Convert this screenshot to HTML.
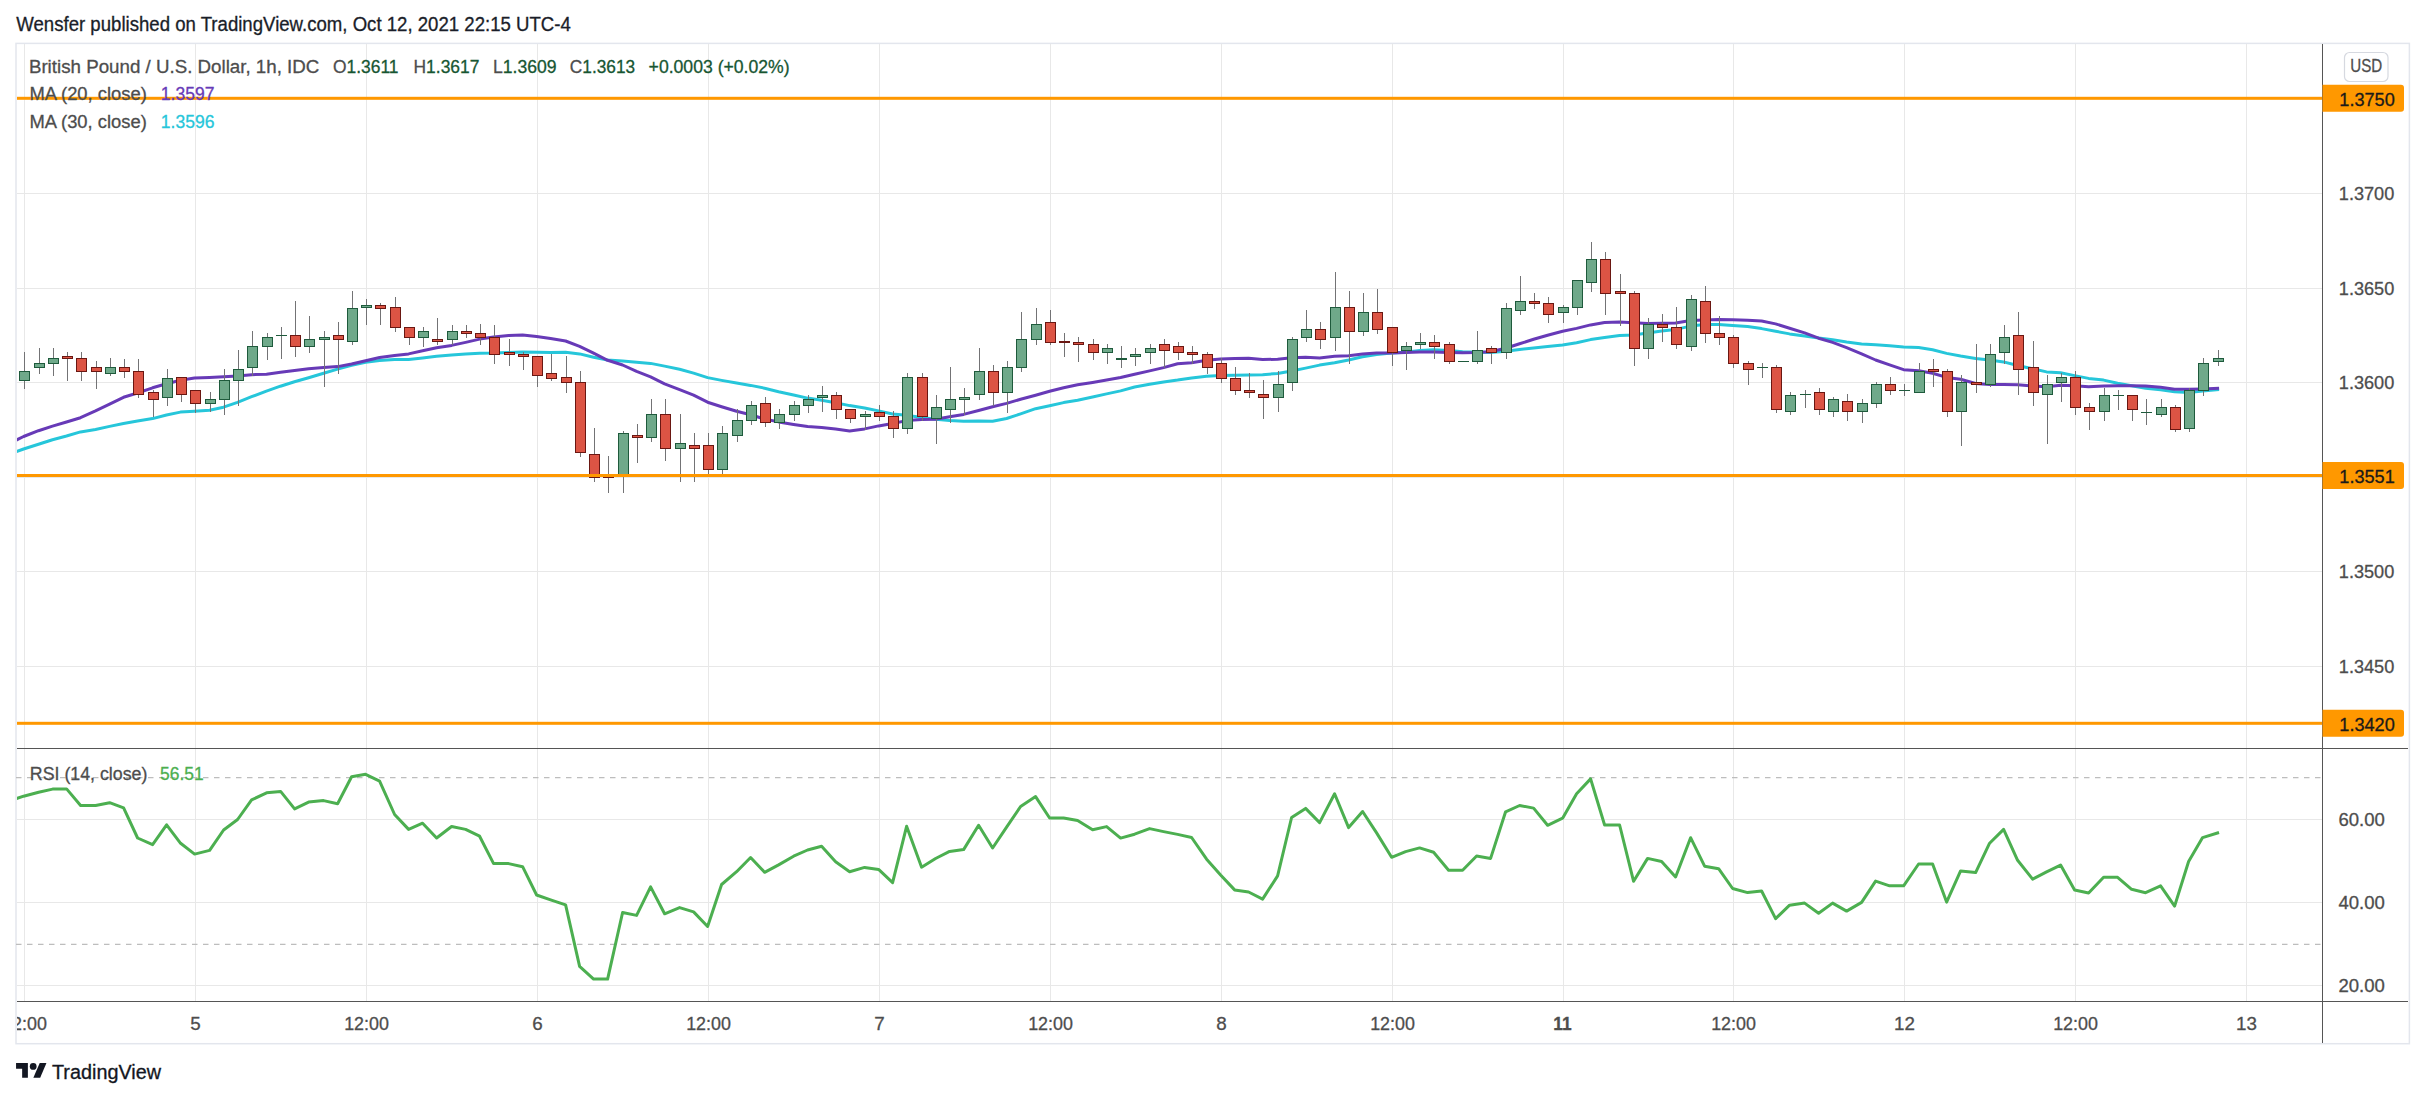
<!DOCTYPE html>
<html><head><meta charset="utf-8"><title>GBPUSD chart</title>
<style>html,body{margin:0;padding:0;background:#fff}body{width:2425px;height:1099px;position:relative;overflow:hidden}</style>
</head><body>
<svg width="2425" height="1099" viewBox="0 0 2425 1099" style="position:absolute;left:0;top:0;font-family:'Liberation Sans', sans-serif">
<rect width="2425" height="1099" fill="#fff"/>
<defs><clipPath id="cp"><rect x="17" y="44" width="2305" height="704"/></clipPath><clipPath id="cr"><rect x="17" y="749" width="2305" height="252"/></clipPath></defs>
<rect x="16.0" y="43.4" width="2393.4" height="1000.3" fill="none" stroke="#e3e6ed" stroke-width="1.5"/>
<g stroke="#e8e8e8" stroke-width="1" shape-rendering="crispEdges">
<line x1="24.5" y1="44" x2="24.5" y2="1001"/>
<line x1="195.5" y1="44" x2="195.5" y2="1001"/>
<line x1="366.5" y1="44" x2="366.5" y2="1001"/>
<line x1="537.5" y1="44" x2="537.5" y2="1001"/>
<line x1="708.5" y1="44" x2="708.5" y2="1001"/>
<line x1="879.5" y1="44" x2="879.5" y2="1001"/>
<line x1="1050.5" y1="44" x2="1050.5" y2="1001"/>
<line x1="1221.5" y1="44" x2="1221.5" y2="1001"/>
<line x1="1392.5" y1="44" x2="1392.5" y2="1001"/>
<line x1="1563.5" y1="44" x2="1563.5" y2="1001"/>
<line x1="1733.5" y1="44" x2="1733.5" y2="1001"/>
<line x1="1904.5" y1="44" x2="1904.5" y2="1001"/>
<line x1="2075.5" y1="44" x2="2075.5" y2="1001"/>
<line x1="2246.5" y1="44" x2="2246.5" y2="1001"/>
<line x1="17" y1="193.5" x2="2322" y2="193.5"/>
<line x1="17" y1="288.5" x2="2322" y2="288.5"/>
<line x1="17" y1="382.5" x2="2322" y2="382.5"/>
<line x1="17" y1="477.5" x2="2322" y2="477.5"/>
<line x1="17" y1="571.5" x2="2322" y2="571.5"/>
<line x1="17" y1="666.5" x2="2322" y2="666.5"/>
<line x1="17" y1="819.5" x2="2322" y2="819.5"/>
<line x1="17" y1="902.5" x2="2322" y2="902.5"/>
<line x1="17" y1="985.5" x2="2322" y2="985.5"/>
</g>
<g stroke="#bdbdbd" stroke-width="1.2" stroke-dasharray="5.5 5.5" fill="none">
<line x1="16" y1="777.7" x2="2322" y2="777.7"/><line x1="16" y1="944.3" x2="2322" y2="944.3"/></g>
<g clip-path="url(#cp)">
<polyline points="15.3,452.1 23.6,449.0 38.5,444.3 52.5,439.7 66.5,436.0 80.5,431.9 95.5,429.5 109.6,426.4 123.5,423.5 137.5,421.1 152.6,418.6 166.5,415.0 180.4,412.1 194.4,411.2 209.5,410.3 223.5,407.2 237.5,402.3 251.6,396.7 266.4,391.1 280.4,386.2 294.5,381.8 308.6,377.8 323.6,373.2 337.6,369.1 351.6,365.4 365.6,362.3 379.5,360.5 394.5,359.6 408.6,359.5 422.6,358.0 436.6,356.2 451.6,354.9 465.6,353.9 479.6,353.2 493.6,353.1 508.6,352.5 522.6,352.0 536.6,352.3 550.6,352.6 565.6,352.2 579.6,353.9 593.6,357.3 607.6,360.0 622.6,361.0 636.6,362.3 650.6,363.4 664.6,366.1 679.6,369.3 693.6,373.1 707.6,377.6 721.6,380.4 736.6,383.1 750.6,385.4 764.6,388.2 778.6,391.7 793.6,395.0 807.6,398.1 821.6,400.3 835.6,402.7 849.6,405.6 864.6,408.0 878.6,410.9 892.6,414.0 906.6,415.3 921.6,417.4 935.6,419.2 949.6,420.6 963.6,421.3 978.6,421.0 992.6,421.3 1006.6,418.5 1020.6,413.9 1035.6,408.7 1049.6,405.7 1063.6,402.6 1077.6,400.2 1092.6,397.0 1106.6,393.9 1120.6,390.9 1134.6,387.0 1149.6,384.2 1163.6,381.9 1177.6,380.1 1191.6,377.9 1206.6,376.3 1220.6,375.4 1234.6,375.2 1248.6,375.1 1262.6,374.7 1277.6,373.5 1291.6,371.0 1305.6,368.1 1319.6,365.1 1334.6,362.8 1348.6,360.0 1362.6,356.8 1376.6,354.5 1391.6,353.0 1405.6,352.2 1419.6,350.5 1433.6,349.8 1448.6,350.6 1462.6,351.8 1476.6,352.1 1490.6,352.4 1505.6,351.2 1519.6,349.4 1533.6,347.9 1547.6,346.5 1562.6,344.9 1576.6,342.7 1590.6,339.6 1604.6,337.6 1619.6,335.6 1633.6,335.0 1647.6,333.1 1661.6,331.0 1675.6,329.4 1690.6,326.1 1704.6,324.5 1718.6,324.4 1732.6,325.6 1747.6,326.6 1761.6,328.6 1775.6,331.2 1789.6,333.9 1804.6,336.1 1818.6,338.0 1832.6,339.7 1846.6,342.1 1861.6,343.9 1875.6,344.7 1889.6,345.7 1903.6,347.0 1918.6,347.6 1932.6,349.7 1946.6,353.4 1960.6,356.0 1975.6,358.4 1989.6,360.0 2003.6,361.9 2017.6,365.5 2032.6,368.8 2046.6,371.9 2060.6,372.8 2074.6,375.6 2088.6,378.4 2103.6,380.1 2117.6,383.3 2131.6,385.8 2145.6,388.3 2160.6,389.7 2174.6,391.7 2188.6,392.5 2202.6,390.9 2217.6,389.7" fill="none" stroke="#26c6da" stroke-width="3" stroke-linejoin="round" stroke-linecap="square"/>
<polyline points="15.3,440.6 23.6,436.5 38.5,430.7 52.5,426.1 66.5,422.0 80.5,417.7 95.5,410.9 109.6,404.1 123.5,397.3 137.5,393.0 152.6,387.8 166.5,383.7 180.5,380.3 194.5,378.1 209.6,377.4 223.6,376.8 237.6,375.9 251.7,374.7 266.5,374.2 280.5,372.2 294.6,370.4 308.6,368.8 323.6,367.5 337.6,366.6 351.6,364.0 365.6,360.7 379.6,357.5 394.6,355.6 408.6,353.9 422.6,350.7 436.6,347.8 451.6,345.4 465.6,342.4 479.6,339.1 493.6,336.9 508.6,335.6 522.6,335.0 536.6,336.5 550.6,338.6 565.6,341.0 579.6,346.3 593.6,353.2 607.6,360.3 622.6,365.0 636.6,371.4 650.6,376.9 664.6,383.9 679.6,389.7 693.6,395.2 707.6,402.2 721.6,406.7 736.6,411.2 750.6,414.7 764.6,419.0 778.6,421.9 793.6,424.4 807.6,426.6 821.6,427.5 835.6,429.1 849.6,430.9 864.6,428.9 878.6,425.9 892.6,423.4 906.6,420.6 921.6,419.5 935.6,419.2 949.6,416.7 963.6,414.4 978.6,410.5 992.6,406.7 1006.6,403.4 1020.6,399.3 1035.6,395.3 1049.6,391.3 1063.6,387.7 1077.6,384.7 1092.6,382.4 1106.6,380.1 1120.6,377.5 1134.6,374.2 1149.6,370.9 1163.6,367.6 1177.6,363.8 1191.6,362.7 1206.6,360.3 1220.6,358.9 1234.6,358.5 1248.6,358.2 1262.6,359.6 1277.6,359.2 1291.6,357.8 1305.6,357.3 1319.6,358.0 1334.6,356.3 1348.6,355.7 1362.6,354.1 1376.6,352.9 1391.6,353.1 1405.6,352.5 1419.6,351.9 1433.6,351.9 1448.6,352.4 1462.6,352.8 1476.6,352.6 1490.6,351.8 1505.6,348.3 1519.6,343.8 1533.6,339.3 1547.6,335.2 1562.6,331.3 1576.6,328.4 1590.6,324.9 1604.6,322.6 1619.6,321.9 1633.6,322.8 1647.6,323.4 1661.6,323.3 1675.6,322.9 1690.6,320.5 1704.6,320.1 1718.6,319.6 1732.6,319.7 1747.6,320.2 1761.6,321.0 1775.6,323.9 1789.6,328.2 1804.6,332.9 1818.6,338.2 1832.6,342.4 1846.6,347.6 1861.6,353.8 1875.6,360.0 1889.6,364.9 1903.6,369.7 1918.6,370.8 1932.6,373.2 1946.6,377.4 1960.6,379.3 1975.6,383.5 1989.6,384.6 2003.6,384.5 2017.6,384.8 2032.6,386.0 2046.6,386.8 2060.6,385.2 2074.6,385.8 2088.6,386.8 2103.6,386.0 2117.6,385.8 2131.6,385.7 2145.6,386.1 2160.6,387.3 2174.6,389.2 2188.6,389.3 2202.6,388.9 2217.6,388.2" fill="none" stroke="#673ab7" stroke-width="3" stroke-linejoin="round" stroke-linecap="square"/>
<g fill="#737375" shape-rendering="crispEdges"><rect x="24.0" y="352" width="1" height="37"/><rect x="39.0" y="348" width="1" height="26"/><rect x="53.0" y="348" width="1" height="28"/><rect x="67.0" y="352" width="1" height="29"/><rect x="81.0" y="352" width="1" height="29"/><rect x="96.0" y="361" width="1" height="28"/><rect x="110.0" y="358" width="1" height="18"/><rect x="124.0" y="359" width="1" height="19"/><rect x="138.0" y="359" width="1" height="39"/><rect x="153.0" y="390" width="1" height="27"/><rect x="167.0" y="369" width="1" height="37"/><rect x="181.0" y="377" width="1" height="25"/><rect x="195.0" y="390" width="1" height="23"/><rect x="210.0" y="392" width="1" height="20"/><rect x="224.0" y="369" width="1" height="46"/><rect x="238.0" y="350" width="1" height="56"/><rect x="252.0" y="331" width="1" height="45"/><rect x="267.0" y="333" width="1" height="27"/><rect x="281.0" y="327" width="1" height="32"/><rect x="295.0" y="301" width="1" height="56"/><rect x="309.0" y="316" width="1" height="37"/><rect x="324.0" y="331" width="1" height="56"/><rect x="338.0" y="322" width="1" height="52"/><rect x="352.0" y="291" width="1" height="54"/><rect x="366.0" y="299" width="1" height="26"/><rect x="380.0" y="303" width="1" height="22"/><rect x="395.0" y="297" width="1" height="35"/><rect x="409.0" y="327" width="1" height="18"/><rect x="423.0" y="327" width="1" height="20"/><rect x="437.0" y="318" width="1" height="27"/><rect x="452.0" y="325" width="1" height="20"/><rect x="466.0" y="325" width="1" height="13"/><rect x="480.0" y="324" width="1" height="21"/><rect x="494.0" y="325" width="1" height="39"/><rect x="509.0" y="339" width="1" height="27"/><rect x="523.0" y="352" width="1" height="18"/><rect x="537.0" y="356" width="1" height="31"/><rect x="551.0" y="354" width="1" height="27"/><rect x="566.0" y="356" width="1" height="37"/><rect x="580.0" y="371" width="1" height="86"/><rect x="594.0" y="428" width="1" height="54"/><rect x="608.0" y="456" width="1" height="37"/><rect x="623.0" y="431" width="1" height="62"/><rect x="637.0" y="424" width="1" height="39"/><rect x="651.0" y="399" width="1" height="43"/><rect x="665.0" y="399" width="1" height="62"/><rect x="680.0" y="414" width="1" height="68"/><rect x="694.0" y="433" width="1" height="49"/><rect x="708.0" y="433" width="1" height="43"/><rect x="722.0" y="426" width="1" height="50"/><rect x="737.0" y="409" width="1" height="33"/><rect x="751.0" y="401" width="1" height="24"/><rect x="765.0" y="397" width="1" height="30"/><rect x="779.0" y="409" width="1" height="20"/><rect x="794.0" y="401" width="1" height="20"/><rect x="808.0" y="395" width="1" height="18"/><rect x="822.0" y="386" width="1" height="26"/><rect x="836.0" y="392" width="1" height="27"/><rect x="850.0" y="409" width="1" height="14"/><rect x="865.0" y="411" width="1" height="19"/><rect x="879.0" y="405" width="1" height="16"/><rect x="893.0" y="411" width="1" height="27"/><rect x="907.0" y="373" width="1" height="61"/><rect x="922.0" y="373" width="1" height="48"/><rect x="936.0" y="395" width="1" height="49"/><rect x="950.0" y="367" width="1" height="56"/><rect x="964.0" y="388" width="1" height="27"/><rect x="979.0" y="348" width="1" height="52"/><rect x="993.0" y="365" width="1" height="41"/><rect x="1007.0" y="361" width="1" height="52"/><rect x="1021.0" y="312" width="1" height="60"/><rect x="1036.0" y="308" width="1" height="37"/><rect x="1050.0" y="310" width="1" height="35"/><rect x="1064.0" y="333" width="1" height="24"/><rect x="1078.0" y="337" width="1" height="25"/><rect x="1093.0" y="339" width="1" height="21"/><rect x="1107.0" y="344" width="1" height="20"/><rect x="1121.0" y="346" width="1" height="22"/><rect x="1135.0" y="348" width="1" height="18"/><rect x="1150.0" y="344" width="1" height="20"/><rect x="1164.0" y="339" width="1" height="29"/><rect x="1178.0" y="342" width="1" height="18"/><rect x="1192.0" y="346" width="1" height="18"/><rect x="1207.0" y="352" width="1" height="22"/><rect x="1221.0" y="358" width="1" height="25"/><rect x="1235.0" y="367" width="1" height="28"/><rect x="1249.0" y="373" width="1" height="25"/><rect x="1263.0" y="380" width="1" height="39"/><rect x="1278.0" y="371" width="1" height="41"/><rect x="1292.0" y="337" width="1" height="54"/><rect x="1306.0" y="310" width="1" height="32"/><rect x="1320.0" y="322" width="1" height="27"/><rect x="1335.0" y="272" width="1" height="79"/><rect x="1349.0" y="291" width="1" height="73"/><rect x="1363.0" y="293" width="1" height="43"/><rect x="1377.0" y="289" width="1" height="45"/><rect x="1392.0" y="327" width="1" height="39"/><rect x="1406.0" y="342" width="1" height="28"/><rect x="1420.0" y="333" width="1" height="16"/><rect x="1434.0" y="335" width="1" height="24"/><rect x="1449.0" y="342" width="1" height="22"/><rect x="1463.0" y="361" width="1" height="1"/><rect x="1477.0" y="331" width="1" height="33"/><rect x="1491.0" y="346" width="1" height="18"/><rect x="1506.0" y="303" width="1" height="56"/><rect x="1520.0" y="276" width="1" height="39"/><rect x="1534.0" y="293" width="1" height="16"/><rect x="1548.0" y="297" width="1" height="26"/><rect x="1563.0" y="305" width="1" height="18"/><rect x="1577.0" y="280" width="1" height="35"/><rect x="1591.0" y="242" width="1" height="50"/><rect x="1605.0" y="252" width="1" height="63"/><rect x="1620.0" y="274" width="1" height="52"/><rect x="1634.0" y="291" width="1" height="75"/><rect x="1648.0" y="318" width="1" height="41"/><rect x="1662.0" y="314" width="1" height="28"/><rect x="1676.0" y="307" width="1" height="42"/><rect x="1691.0" y="295" width="1" height="56"/><rect x="1705.0" y="286" width="1" height="57"/><rect x="1719.0" y="316" width="1" height="29"/><rect x="1733.0" y="335" width="1" height="33"/><rect x="1748.0" y="361" width="1" height="24"/><rect x="1762.0" y="363" width="1" height="15"/><rect x="1776.0" y="365" width="1" height="48"/><rect x="1790.0" y="392" width="1" height="23"/><rect x="1805.0" y="390" width="1" height="18"/><rect x="1819.0" y="388" width="1" height="27"/><rect x="1833.0" y="397" width="1" height="20"/><rect x="1847.0" y="394" width="1" height="27"/><rect x="1862.0" y="399" width="1" height="24"/><rect x="1876.0" y="382" width="1" height="26"/><rect x="1890.0" y="377" width="1" height="18"/><rect x="1904.0" y="384" width="1" height="12"/><rect x="1919.0" y="363" width="1" height="30"/><rect x="1933.0" y="359" width="1" height="28"/><rect x="1947.0" y="369" width="1" height="48"/><rect x="1961.0" y="375" width="1" height="71"/><rect x="1976.0" y="344" width="1" height="49"/><rect x="1990.0" y="344" width="1" height="43"/><rect x="2004.0" y="325" width="1" height="39"/><rect x="2018.0" y="312" width="1" height="83"/><rect x="2033.0" y="341" width="1" height="65"/><rect x="2047.0" y="375" width="1" height="69"/><rect x="2061.0" y="373" width="1" height="29"/><rect x="2075.0" y="371" width="1" height="44"/><rect x="2089.0" y="403" width="1" height="27"/><rect x="2104.0" y="388" width="1" height="33"/><rect x="2118.0" y="390" width="1" height="20"/><rect x="2132.0" y="395" width="1" height="26"/><rect x="2146.0" y="399" width="1" height="26"/><rect x="2161.0" y="399" width="1" height="18"/><rect x="2175.0" y="405" width="1" height="27"/><rect x="2189.0" y="388" width="1" height="44"/><rect x="2203.0" y="358" width="1" height="38"/><rect x="2218.0" y="350" width="1" height="16"/></g>
<g fill="#6fa98a" stroke="#1e5a3c" stroke-width="1"><rect x="19.5" y="371.5" width="10" height="9"/><rect x="34.5" y="363.5" width="10" height="4"/><rect x="48.5" y="358.5" width="10" height="5"/><rect x="105.5" y="367.5" width="10" height="6"/><rect x="162.5" y="378.5" width="10" height="19"/><rect x="205.5" y="399.5" width="10" height="4"/><rect x="219.5" y="380.5" width="10" height="19"/><rect x="233.5" y="369.5" width="10" height="11"/><rect x="247.5" y="346.5" width="10" height="21"/><rect x="262.5" y="337.5" width="10" height="9"/><rect x="276.0" y="335" width="11" height="1" fill="#1e5a3c" stroke="none"/><rect x="304.5" y="339.5" width="10" height="7"/><rect x="319.5" y="337.5" width="10" height="2"/><rect x="347.5" y="308.5" width="10" height="33"/><rect x="361.5" y="305.5" width="10" height="2"/><rect x="418.5" y="331.5" width="10" height="6"/><rect x="447.5" y="331.5" width="10" height="8"/><rect x="618.5" y="433.5" width="10" height="43"/><rect x="646.5" y="414.5" width="10" height="23"/><rect x="675.5" y="443.5" width="10" height="5"/><rect x="717.5" y="433.5" width="10" height="36"/><rect x="732.5" y="420.5" width="10" height="15"/><rect x="746.5" y="405.5" width="10" height="15"/><rect x="774.5" y="414.5" width="10" height="8"/><rect x="789.5" y="405.5" width="10" height="9"/><rect x="803.5" y="399.5" width="10" height="6"/><rect x="817.5" y="395.5" width="10" height="2"/><rect x="860.5" y="414.5" width="10" height="2"/><rect x="902.5" y="377.5" width="10" height="51"/><rect x="931.5" y="407.5" width="10" height="11"/><rect x="945.5" y="399.5" width="10" height="10"/><rect x="959.5" y="397.5" width="10" height="2"/><rect x="974.5" y="371.5" width="10" height="23"/><rect x="1002.5" y="367.5" width="10" height="25"/><rect x="1016.5" y="339.5" width="10" height="28"/><rect x="1031.5" y="324.5" width="10" height="15"/><rect x="1102.5" y="348.5" width="10" height="4"/><rect x="1116.0" y="358" width="11" height="2" fill="#1e5a3c" stroke="none"/><rect x="1130.5" y="354.5" width="10" height="2"/><rect x="1145.5" y="348.5" width="10" height="4"/><rect x="1273.5" y="384.5" width="10" height="13"/><rect x="1287.5" y="339.5" width="10" height="43"/><rect x="1301.5" y="329.5" width="10" height="8"/><rect x="1330.5" y="307.5" width="10" height="30"/><rect x="1358.5" y="312.5" width="10" height="19"/><rect x="1401.5" y="346.5" width="10" height="4"/><rect x="1415.5" y="342.5" width="10" height="2"/><rect x="1458.0" y="361" width="11" height="1" fill="#1e5a3c" stroke="none"/><rect x="1472.5" y="350.5" width="10" height="11"/><rect x="1501.5" y="308.5" width="10" height="44"/><rect x="1515.5" y="301.5" width="10" height="9"/><rect x="1558.5" y="307.5" width="10" height="5"/><rect x="1572.5" y="280.5" width="10" height="27"/><rect x="1586.5" y="259.5" width="10" height="23"/><rect x="1643.5" y="324.5" width="10" height="24"/><rect x="1686.5" y="299.5" width="10" height="47"/><rect x="1757.0" y="367" width="11" height="1" fill="#1e5a3c" stroke="none"/><rect x="1785.5" y="395.5" width="10" height="16"/><rect x="1800.0" y="394" width="11" height="1" fill="#1e5a3c" stroke="none"/><rect x="1828.5" y="399.5" width="10" height="12"/><rect x="1857.5" y="403.5" width="10" height="8"/><rect x="1871.5" y="384.5" width="10" height="19"/><rect x="1899.0" y="390" width="11" height="1" fill="#1e5a3c" stroke="none"/><rect x="1914.5" y="371.5" width="10" height="21"/><rect x="1956.5" y="382.5" width="10" height="29"/><rect x="1985.5" y="354.5" width="10" height="30"/><rect x="1999.5" y="337.5" width="10" height="15"/><rect x="2042.5" y="384.5" width="10" height="10"/><rect x="2056.5" y="377.5" width="10" height="5"/><rect x="2099.5" y="395.5" width="10" height="16"/><rect x="2113.0" y="395" width="11" height="1" fill="#1e5a3c" stroke="none"/><rect x="2141.0" y="412" width="11" height="1" fill="#1e5a3c" stroke="none"/><rect x="2156.5" y="407.5" width="10" height="7"/><rect x="2184.5" y="390.5" width="10" height="38"/><rect x="2198.5" y="363.5" width="10" height="27"/><rect x="2213.5" y="358.5" width="10" height="3"/></g>
<g fill="#dc5444" stroke="#6a1712" stroke-width="1"><rect x="62.5" y="356.5" width="10" height="2"/><rect x="76.5" y="358.5" width="10" height="13"/><rect x="91.5" y="367.5" width="10" height="4"/><rect x="119.5" y="367.5" width="10" height="4"/><rect x="133.5" y="371.5" width="10" height="23"/><rect x="148.5" y="392.5" width="10" height="7"/><rect x="176.5" y="377.5" width="10" height="17"/><rect x="190.5" y="390.5" width="10" height="13"/><rect x="290.5" y="335.5" width="10" height="11"/><rect x="333.5" y="335.5" width="10" height="4"/><rect x="375.5" y="305.5" width="10" height="3"/><rect x="390.5" y="307.5" width="10" height="20"/><rect x="404.5" y="327.5" width="10" height="10"/><rect x="432.5" y="339.5" width="10" height="2"/><rect x="461.5" y="331.5" width="10" height="2"/><rect x="475.5" y="333.5" width="10" height="4"/><rect x="489.5" y="337.5" width="10" height="17"/><rect x="504.5" y="352.5" width="10" height="2"/><rect x="518.5" y="354.5" width="10" height="2"/><rect x="532.5" y="356.5" width="10" height="19"/><rect x="546.5" y="373.5" width="10" height="5"/><rect x="561.5" y="377.5" width="10" height="5"/><rect x="575.5" y="382.5" width="10" height="70"/><rect x="589.5" y="454.5" width="10" height="23"/><rect x="603.0" y="476" width="11" height="2" fill="#6a1712" stroke="none"/><rect x="632.5" y="435.5" width="10" height="2"/><rect x="660.5" y="414.5" width="10" height="34"/><rect x="689.5" y="445.5" width="10" height="3"/><rect x="703.5" y="445.5" width="10" height="24"/><rect x="760.5" y="403.5" width="10" height="19"/><rect x="831.5" y="395.5" width="10" height="14"/><rect x="845.5" y="409.5" width="10" height="9"/><rect x="874.5" y="412.5" width="10" height="4"/><rect x="888.5" y="416.5" width="10" height="12"/><rect x="917.5" y="377.5" width="10" height="39"/><rect x="988.5" y="371.5" width="10" height="21"/><rect x="1045.5" y="322.5" width="10" height="20"/><rect x="1059.0" y="341" width="11" height="2" fill="#6a1712" stroke="none"/><rect x="1073.5" y="342.5" width="10" height="2"/><rect x="1088.5" y="344.5" width="10" height="8"/><rect x="1159.5" y="344.5" width="10" height="6"/><rect x="1173.5" y="346.5" width="10" height="6"/><rect x="1187.5" y="352.5" width="10" height="2"/><rect x="1202.5" y="354.5" width="10" height="13"/><rect x="1216.5" y="363.5" width="10" height="15"/><rect x="1230.5" y="378.5" width="10" height="12"/><rect x="1244.5" y="390.5" width="10" height="2"/><rect x="1258.5" y="394.5" width="10" height="3"/><rect x="1315.5" y="329.5" width="10" height="10"/><rect x="1344.5" y="307.5" width="10" height="24"/><rect x="1372.5" y="312.5" width="10" height="17"/><rect x="1387.5" y="327.5" width="10" height="25"/><rect x="1429.5" y="342.5" width="10" height="4"/><rect x="1444.5" y="344.5" width="10" height="17"/><rect x="1486.5" y="348.5" width="10" height="4"/><rect x="1529.5" y="301.5" width="10" height="2"/><rect x="1543.5" y="303.5" width="10" height="11"/><rect x="1600.5" y="259.5" width="10" height="34"/><rect x="1615.5" y="291.5" width="10" height="2"/><rect x="1629.5" y="293.5" width="10" height="55"/><rect x="1657.5" y="324.5" width="10" height="3"/><rect x="1671.5" y="327.5" width="10" height="17"/><rect x="1700.5" y="301.5" width="10" height="32"/><rect x="1714.5" y="333.5" width="10" height="4"/><rect x="1728.5" y="337.5" width="10" height="26"/><rect x="1743.5" y="363.5" width="10" height="6"/><rect x="1771.5" y="367.5" width="10" height="42"/><rect x="1814.5" y="392.5" width="10" height="17"/><rect x="1842.5" y="401.5" width="10" height="10"/><rect x="1885.5" y="384.5" width="10" height="6"/><rect x="1928.5" y="369.5" width="10" height="2"/><rect x="1942.5" y="371.5" width="10" height="40"/><rect x="1971.5" y="382.5" width="10" height="2"/><rect x="2013.5" y="335.5" width="10" height="34"/><rect x="2028.5" y="367.5" width="10" height="25"/><rect x="2070.5" y="377.5" width="10" height="30"/><rect x="2084.5" y="407.5" width="10" height="4"/><rect x="2127.5" y="395.5" width="10" height="14"/><rect x="2170.5" y="407.5" width="10" height="22"/></g>
<rect x="17" y="96.8" width="2305" height="3" fill="#ff9800"/>
<rect x="17" y="474.0" width="2305" height="3" fill="#ff9800"/>
<rect x="17" y="721.8" width="2305" height="3" fill="#ff9800"/>
</g>
<g clip-path="url(#cr)"><polyline points="15.3,799.0 23.6,796.2 38.6,792.2 52.6,789.1 66.6,788.9 80.6,805.5 95.6,805.5 109.6,802.7 123.6,807.9 137.6,838.0 152.6,844.6 166.6,824.8 180.6,843.3 194.6,854.1 209.6,850.4 223.6,830.0 237.6,819.5 251.6,799.9 266.6,792.8 280.6,791.4 294.6,808.9 308.6,802.1 323.6,800.6 337.6,803.7 351.6,776.8 365.6,774.3 379.6,781.1 394.6,814.5 408.6,829.4 422.6,823.2 436.6,838.0 451.6,826.5 465.6,829.4 479.6,836.2 493.6,863.6 508.6,863.6 522.6,866.7 536.6,895.0 550.6,899.9 565.6,904.9 579.6,966.4 593.6,979.1 607.6,979.1 622.6,912.5 636.6,915.4 650.6,886.9 664.6,913.8 679.6,907.6 693.6,911.9 707.6,926.5 721.6,884.5 736.6,871.7 750.6,857.5 764.6,872.3 778.6,864.9 793.6,856.2 807.6,850.0 821.6,846.3 835.6,861.8 849.6,871.7 864.6,867.4 878.6,869.4 892.6,882.6 906.6,826.3 921.6,867.2 935.6,858.5 949.6,851.4 963.6,849.6 978.6,825.3 992.6,848.0 1006.6,827.2 1020.6,806.5 1035.6,796.6 1049.6,818.0 1063.6,818.0 1077.6,820.5 1092.6,829.8 1106.6,826.6 1120.6,838.1 1134.6,834.2 1149.6,828.6 1163.6,831.6 1177.6,834.4 1191.6,837.5 1206.6,859.2 1220.6,875.0 1234.6,889.9 1248.6,892.0 1262.6,899.1 1277.6,875.9 1291.6,817.5 1305.6,808.4 1319.6,822.6 1334.6,793.8 1348.6,827.6 1362.6,811.5 1376.6,832.9 1391.6,857.3 1405.6,851.6 1419.6,847.9 1433.6,852.3 1448.6,870.2 1462.6,870.2 1476.6,856.0 1490.6,858.4 1505.6,811.8 1519.6,805.5 1533.6,808.1 1547.6,825.3 1562.6,818.2 1576.6,793.7 1590.6,778.9 1604.6,825.0 1619.6,825.0 1633.6,881.3 1647.6,858.4 1661.6,861.5 1675.6,877.0 1690.6,837.7 1704.6,866.2 1718.6,868.7 1732.6,888.5 1747.6,892.6 1761.6,891.0 1775.6,918.6 1789.6,905.2 1804.6,903.1 1818.6,913.2 1832.6,903.1 1846.6,911.1 1861.6,902.4 1875.6,881.1 1889.6,885.8 1903.6,885.8 1918.6,864.0 1932.6,864.0 1946.6,902.1 1960.6,870.9 1975.6,872.6 1989.6,843.2 2003.6,829.4 2017.6,860.3 2032.6,879.1 2046.6,871.9 2060.6,865.1 2074.6,890.0 2088.6,893.0 2103.6,877.3 2117.6,877.3 2131.6,889.3 2145.6,892.7 2160.6,885.9 2174.6,906.1 2188.6,861.5 2202.6,837.6 2217.6,832.9" fill="none" stroke="#4caf50" stroke-width="3" stroke-linejoin="round" stroke-linecap="square"/></g>
<g fill="#555555" shape-rendering="crispEdges">
<rect x="2322" y="44" width="1" height="999"/>
<rect x="17" y="748" width="2391" height="1"/>
<rect x="17" y="1001" width="2391" height="1"/>
</g>
<text x="2338.8" y="199.9" font-size="19" fill="#4d4d4d" text-anchor="start" font-weight="normal" textLength="55.5" lengthAdjust="spacingAndGlyphs" stroke="#4d4d4d" stroke-width="0.3">1.3700</text>
<text x="2338.8" y="294.9" font-size="19" fill="#4d4d4d" text-anchor="start" font-weight="normal" textLength="55.5" lengthAdjust="spacingAndGlyphs" stroke="#4d4d4d" stroke-width="0.3">1.3650</text>
<text x="2338.8" y="388.9" font-size="19" fill="#4d4d4d" text-anchor="start" font-weight="normal" textLength="55.5" lengthAdjust="spacingAndGlyphs" stroke="#4d4d4d" stroke-width="0.3">1.3600</text>
<text x="2338.8" y="577.9" font-size="19" fill="#4d4d4d" text-anchor="start" font-weight="normal" textLength="55.5" lengthAdjust="spacingAndGlyphs" stroke="#4d4d4d" stroke-width="0.3">1.3500</text>
<text x="2338.8" y="672.9" font-size="19" fill="#4d4d4d" text-anchor="start" font-weight="normal" textLength="55.5" lengthAdjust="spacingAndGlyphs" stroke="#4d4d4d" stroke-width="0.3">1.3450</text>
<text x="2338.4" y="826.0" font-size="19" fill="#4d4d4d" text-anchor="start" font-weight="normal" textLength="46.4" lengthAdjust="spacingAndGlyphs" stroke="#4d4d4d" stroke-width="0.3">60.00</text>
<text x="2338.4" y="909.0" font-size="19" fill="#4d4d4d" text-anchor="start" font-weight="normal" textLength="46.4" lengthAdjust="spacingAndGlyphs" stroke="#4d4d4d" stroke-width="0.3">40.00</text>
<text x="2338.4" y="992.0" font-size="19" fill="#4d4d4d" text-anchor="start" font-weight="normal" textLength="46.4" lengthAdjust="spacingAndGlyphs" stroke="#4d4d4d" stroke-width="0.3">20.00</text>
<path d="M2322.5 84.8H2401a3 3 0 0 1 3 3V108.8a3 3 0 0 1-3 3H2322.5Z" fill="#ff9800"/>
<text x="2339.3" y="105.6" font-size="19" fill="#1a1a1a" text-anchor="start" font-weight="normal" textLength="55.5" lengthAdjust="spacingAndGlyphs" stroke="#1a1a1a" stroke-width="0.3">1.3750</text>
<path d="M2322.5 462.0H2401a3 3 0 0 1 3 3V486.0a3 3 0 0 1-3 3H2322.5Z" fill="#ff9800"/>
<text x="2339.3" y="482.8" font-size="19" fill="#1a1a1a" text-anchor="start" font-weight="normal" textLength="55.5" lengthAdjust="spacingAndGlyphs" stroke="#1a1a1a" stroke-width="0.3">1.3551</text>
<path d="M2322.5 709.8H2401a3 3 0 0 1 3 3V733.8a3 3 0 0 1-3 3H2322.5Z" fill="#ff9800"/>
<text x="2339.3" y="730.5999999999999" font-size="19" fill="#1a1a1a" text-anchor="start" font-weight="normal" textLength="55.5" lengthAdjust="spacingAndGlyphs" stroke="#1a1a1a" stroke-width="0.3">1.3420</text>
<rect x="2344.5" y="52.5" width="43.5" height="29" rx="5" fill="#fff" stroke="#d6d9e0" stroke-width="1.2"/>
<text x="2350.2" y="72.4" font-size="18.8" fill="#4d4d4d" text-anchor="start" font-weight="normal" textLength="32" lengthAdjust="spacingAndGlyphs" stroke="#4d4d4d" stroke-width="0.3">USD</text>
<g clip-path="url(#ct)">
<text x="195.5" y="1029.8" font-size="18.8" fill="#4d4d4d" text-anchor="middle" font-weight="normal" stroke="#4d4d4d" stroke-width="0.3">5</text>
<text x="366.5" y="1029.8" font-size="18.8" fill="#4d4d4d" text-anchor="middle" font-weight="normal" textLength="44.7" lengthAdjust="spacingAndGlyphs" stroke="#4d4d4d" stroke-width="0.3">12:00</text>
<text x="537.5" y="1029.8" font-size="18.8" fill="#4d4d4d" text-anchor="middle" font-weight="normal" stroke="#4d4d4d" stroke-width="0.3">6</text>
<text x="708.5" y="1029.8" font-size="18.8" fill="#4d4d4d" text-anchor="middle" font-weight="normal" textLength="44.7" lengthAdjust="spacingAndGlyphs" stroke="#4d4d4d" stroke-width="0.3">12:00</text>
<text x="879.5" y="1029.8" font-size="18.8" fill="#4d4d4d" text-anchor="middle" font-weight="normal" stroke="#4d4d4d" stroke-width="0.3">7</text>
<text x="1050.5" y="1029.8" font-size="18.8" fill="#4d4d4d" text-anchor="middle" font-weight="normal" textLength="44.7" lengthAdjust="spacingAndGlyphs" stroke="#4d4d4d" stroke-width="0.3">12:00</text>
<text x="1221.5" y="1029.8" font-size="18.8" fill="#4d4d4d" text-anchor="middle" font-weight="normal" stroke="#4d4d4d" stroke-width="0.3">8</text>
<text x="1392.5" y="1029.8" font-size="18.8" fill="#4d4d4d" text-anchor="middle" font-weight="normal" textLength="44.7" lengthAdjust="spacingAndGlyphs" stroke="#4d4d4d" stroke-width="0.3">12:00</text>
<text x="1733.5" y="1029.8" font-size="18.8" fill="#4d4d4d" text-anchor="middle" font-weight="normal" textLength="44.7" lengthAdjust="spacingAndGlyphs" stroke="#4d4d4d" stroke-width="0.3">12:00</text>
<text x="1904.5" y="1029.8" font-size="18.8" fill="#4d4d4d" text-anchor="middle" font-weight="normal" stroke="#4d4d4d" stroke-width="0.3">12</text>
<text x="2075.5" y="1029.8" font-size="18.8" fill="#4d4d4d" text-anchor="middle" font-weight="normal" textLength="44.7" lengthAdjust="spacingAndGlyphs" stroke="#4d4d4d" stroke-width="0.3">12:00</text>
<text x="2246.5" y="1029.8" font-size="18.8" fill="#4d4d4d" text-anchor="middle" font-weight="normal" stroke="#4d4d4d" stroke-width="0.3">13</text>
<text x="1562.5" y="1029.8" font-size="18.8" fill="#4d4d4d" text-anchor="middle" font-weight="bold" textLength="18.3" lengthAdjust="spacingAndGlyphs" stroke="#4d4d4d" stroke-width="0.3">11</text>
</g>
<defs><clipPath id="ct"><rect x="17" y="1002" width="2305" height="41"/></clipPath></defs>
<g clip-path="url(#ct)">
<text x="24.5" y="1029.8" font-size="18.8" fill="#4d4d4d" text-anchor="middle" font-weight="normal" textLength="44.7" lengthAdjust="spacingAndGlyphs" stroke="#4d4d4d" stroke-width="0.3">12:00</text>
</g>
<text x="16.3" y="30.8" font-size="19.3" fill="#1a1e29" text-anchor="start" font-weight="normal" textLength="554.5" lengthAdjust="spacingAndGlyphs" stroke="#1a1e29" stroke-width="0.3">Wensfer published on TradingView.com, Oct 12, 2021 22:15 UTC-4</text>
<text x="28.9" y="73.4" font-size="18.8" fill="#4d4d4d" text-anchor="start" font-weight="normal" textLength="290.5" lengthAdjust="spacingAndGlyphs" stroke="#4d4d4d" stroke-width="0.3">British Pound / U.S. Dollar, 1h, IDC</text>
<text x="333" y="73.3" font-size="18.8" fill="#4d4d4d" stroke="#4d4d4d" stroke-width="0.3" textLength="65.5" lengthAdjust="spacingAndGlyphs">O<tspan fill="#175632" stroke="#175632">1.3611</tspan></text>
<text x="413.5" y="73.3" font-size="18.8" fill="#4d4d4d" stroke="#4d4d4d" stroke-width="0.3" textLength="66" lengthAdjust="spacingAndGlyphs">H<tspan fill="#175632" stroke="#175632">1.3617</tspan></text>
<text x="493" y="73.3" font-size="18.8" fill="#4d4d4d" stroke="#4d4d4d" stroke-width="0.3" textLength="63.5" lengthAdjust="spacingAndGlyphs">L<tspan fill="#175632" stroke="#175632">1.3609</tspan></text>
<text x="569.8" y="73.3" font-size="18.8" fill="#4d4d4d" stroke="#4d4d4d" stroke-width="0.3" textLength="65.3" lengthAdjust="spacingAndGlyphs">C<tspan fill="#175632" stroke="#175632">1.3613</tspan></text>
<text x="648.6" y="73.4" font-size="18.8" fill="#175632" text-anchor="start" font-weight="normal" textLength="141" lengthAdjust="spacingAndGlyphs" stroke="#175632" stroke-width="0.3">+0.0003 (+0.02%)</text>
<text x="29.4" y="100.4" font-size="18.8" fill="#4d4d4d" text-anchor="start" font-weight="normal" textLength="117.4" lengthAdjust="spacingAndGlyphs" stroke="#4d4d4d" stroke-width="0.3">MA (20, close)</text>
<text x="160.8" y="100.4" font-size="18.8" fill="#673ab7" text-anchor="start" font-weight="normal" textLength="53.6" lengthAdjust="spacingAndGlyphs" stroke="#673ab7" stroke-width="0.3">1.3597</text>
<text x="29.4" y="127.7" font-size="18.8" fill="#4d4d4d" text-anchor="start" font-weight="normal" textLength="117.4" lengthAdjust="spacingAndGlyphs" stroke="#4d4d4d" stroke-width="0.3">MA (30, close)</text>
<text x="160.8" y="127.7" font-size="18.8" fill="#26c6da" text-anchor="start" font-weight="normal" textLength="53.6" lengthAdjust="spacingAndGlyphs" stroke="#26c6da" stroke-width="0.3">1.3596</text>
<text x="29.8" y="779.5" font-size="18.8" fill="#4d4d4d" text-anchor="start" font-weight="normal" textLength="117.6" lengthAdjust="spacingAndGlyphs" stroke="#4d4d4d" stroke-width="0.3">RSI (14, close)</text>
<text x="160.1" y="779.5" font-size="18.8" fill="#4caf50" text-anchor="start" font-weight="normal" textLength="43.6" lengthAdjust="spacingAndGlyphs" stroke="#4caf50" stroke-width="0.3">56.51</text>
<g fill="#131722"><path d="M16.06 1063.05H27.88V1077.8H22.15V1068.8H16.06Z"/><circle cx="33.2" cy="1066.45" r="3.4"/><path d="M39.76 1063.05H46.45L40.17 1077.8H33.34Z"/></g>
<text x="52.0" y="1078.8" font-size="19.6" fill="#131722" text-anchor="start" font-weight="normal" textLength="109" lengthAdjust="spacingAndGlyphs" stroke="#131722" stroke-width="0.3">TradingView</text>
</svg>
</body></html>
